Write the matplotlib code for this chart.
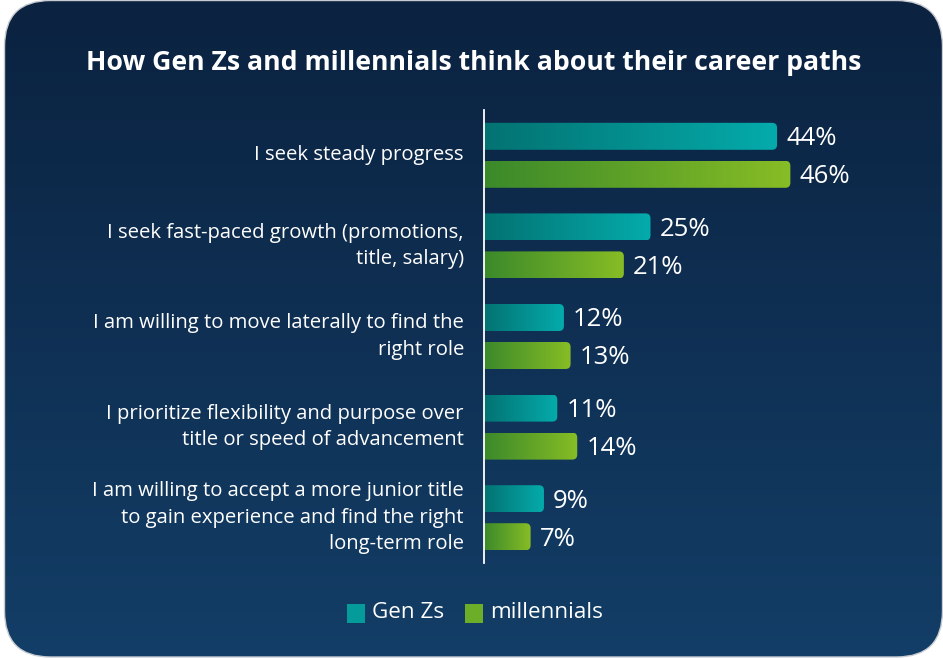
import numpy as np
import matplotlib.pyplot as plt
from matplotlib.patches import FancyBboxPatch, Rectangle
from matplotlib.colors import LinearSegmentedColormap

plt.rcParams['font.family'] = ['Open Sans', 'DejaVu Sans']

# survey answers, top to bottom
categories = [
    "I seek steady progress",
    "I seek fast-paced growth (promotions,\ntitle, salary)",
    "I am willing to move laterally to find the\nright role",
    "I prioritize flexibility and purpose over\ntitle or speed of advancement",
    "I am willing to accept a more junior title\nto gain experience and find the right\nlong-term role",
]
gen_z = [44, 25, 12, 11, 9]
millennials = [46, 21, 13, 14, 7]
series_names = ["Gen Zs", "millennials"]

W, H = 943, 659
fig = plt.figure(figsize=(W / 100, H / 100), dpi=100)
fig.patch.set_facecolor("white")

# background card: pixel coordinates
bg = fig.add_axes([0, 0, 1, 1])
bg.set_xlim(0, W)
bg.set_ylim(H, 0)
bg.axis("off")
card_cmap = LinearSegmentedColormap.from_list("card", ["#0b2240", "#133e67"])
grad = np.linspace(0, 1, 256).reshape(-1, 1)
img = bg.imshow(grad, cmap=card_cmap, extent=[0, W, H, 0], aspect="auto", zorder=0)
r = 46
cx0, cy0, cx1, cy1 = 4.5, 0.5, 942.5, 657
card = FancyBboxPatch((cx0 + r, cy0 + r), cx1 - cx0 - 2 * r, cy1 - cy0 - 2 * r,
                      boxstyle=f"round,pad={r}", facecolor="none",
                      edgecolor="#c8ccd2", linewidth=1.0, zorder=1)
bg.add_patch(card)
img.set_clip_path(card)

bg.text(474, 63, "How Gen Zs and millennials think about their career paths",
        color="white", fontsize=19.2, fontweight="bold", ha="center", va="center")

# bar chart area
ax_left, ax_top, ax_bottom = 484, 110, 563
xmax = 60.0
px_per_x = 6.66
ax_w = xmax * px_per_x
ax = fig.add_axes([ax_left / W, (H - ax_bottom) / H, ax_w / W, (ax_bottom - ax_top) / H])
ax.set_xlim(0, xmax)
ax.set_ylim(len(categories) - 0.5, -0.5)
ax.patch.set_alpha(0)
for s in ["top", "right", "bottom"]:
    ax.spines[s].set_visible(False)
ax.spines["left"].set_color("white")
ax.spines["left"].set_linewidth(1.3)
ax.set_xticks([])
ax.set_yticks([])

px_per_y = (ax_bottom - ax_top) / len(categories)
bar_h = 27 / px_per_y
offset = 19 / px_per_y
radius_px = 5
rx = radius_px / px_per_x
aspect = (radius_px / px_per_y) / rx

teal = LinearSegmentedColormap.from_list("teal", ["#037272", "#05abab"])
green = LinearSegmentedColormap.from_list("green", ["#3b892b", "#87bd25"])
hgrad = np.linspace(0, 1, 256).reshape(1, -1)


def grad_bar(x, yc, cmap):
    y0 = yc - bar_h / 2
    im = ax.imshow(hgrad, cmap=cmap, extent=[0, x, y0 + bar_h, y0],
                   aspect="auto", zorder=2)
    clip = FancyBboxPatch((-2, y0), x + 2, bar_h,
                          boxstyle=f"round,pad=0,rounding_size={rx}",
                          mutation_aspect=aspect, facecolor="none",
                          edgecolor="none", transform=ax.transData)
    ax.add_patch(clip)
    im.set_clip_path(clip)
    ax.text(x + 9 / px_per_x, yc + 2.5 / px_per_y, f"{x}%", color="white",
            fontsize=18.5, ha="left", va="center")


for i, cat in enumerate(categories):
    grad_bar(gen_z[i], i - offset, teal)
    grad_bar(millennials[i], i + offset, green)
    ax.text(-20 / px_per_x, i, cat, color="white", fontsize=14.6, ha="right",
            va="center", multialignment="right", linespacing=1.45, clip_on=False)

ax.set_xlim(0, xmax)
ax.set_ylim(len(categories) - 0.5, -0.5)

# legend
for x0, name, c in [(347, series_names[0], "#059b9b"), (465, series_names[1], "#6cae27")]:
    bg.add_patch(Rectangle((x0, 604), 18, 19, facecolor=c, edgecolor="none", zorder=3))
    bg.text(x0 + 25, 613, name, color="white", fontsize=16.2, ha="left", va="center", zorder=3)

fig.savefig("out.png", dpi=100)
